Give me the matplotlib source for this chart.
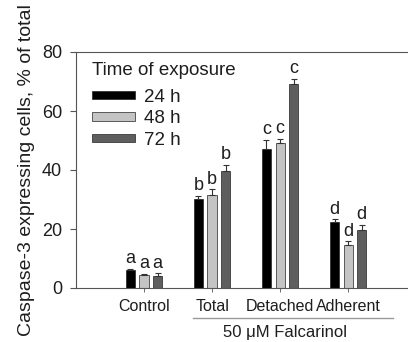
import matplotlib
matplotlib.use("Agg")
import matplotlib.pyplot as plt
import numpy as np

plt.rcParams["font.family"] = ["Liberation Sans", "DejaVu Sans"]

GROUPS = ["Control", "Total", "Detached", "Adherent"]
SERIES = ["24 h", "48 h", "72 h"]
VALUES = [
    [6.0, 30.3, 47.0, 22.5],
    [4.5, 31.5, 49.0, 14.5],
    [4.2, 39.8, 69.0, 19.8],
]
ERRORS = [
    [0.6, 1.0, 3.3, 0.8],
    [0.4, 2.0, 1.6, 1.3],
    [0.8, 2.0, 2.0, 1.6],
]
LETTERS = ["a", "b", "c", "d"]

COLORS = ["#000000", "#c4c4c4", "#5e5e5e"]
TEXT = "#1e1e1e"
AXIS = "#555555"

fig = plt.figure(figsize=(4.08, 3.42), dpi=100)
ax = fig.add_axes([76 / 408, 1 - 288 / 342, 1 - 76 / 408, (288 - 52) / 342])

x = np.arange(len(GROUPS))
width = 0.135
offsets = [-0.2, 0.0, 0.2]
for i, label in enumerate(SERIES):
    xs = x + offsets[i]
    ax.bar(xs, VALUES[i], width, color=COLORS[i], edgecolor="#222222",
           linewidth=0.5, label=label, zorder=2)
    ax.errorbar(xs, VALUES[i], yerr=[np.zeros(len(GROUPS)), ERRORS[i]],
                fmt="none", ecolor="#333333", elinewidth=0.8, capsize=2.5,
                capthick=0.8, zorder=3)
    for xi, v, e, letter in zip(xs, VALUES[i], ERRORS[i], LETTERS):
        ax.text(xi, v + e + 0.5, letter, ha="center", va="bottom",
                fontsize=13, color=TEXT)

ax.set_xlim(-1.0, 3.88)
ax.set_ylim(0, 80)
ax.set_yticks([0, 20, 40, 60, 80])
ax.set_xticks(x)
ax.set_xticklabels(GROUPS)
ax.tick_params(axis="both", colors=AXIS, labelcolor=TEXT)
ax.tick_params(axis="x", length=3, width=0.6, pad=5, labelsize=11.5)
ax.tick_params(axis="y", length=4, width=0.8, pad=6, labelsize=13)
ax.spines["right"].set_visible(False)
for s in ["left", "bottom", "top"]:
    ax.spines[s].set_color(AXIS)
    ax.spines[s].set_linewidth(0.8)

ax.set_ylabel("Caspase-3 expressing cells, % of total", fontsize=14,
              color=TEXT, labelpad=5)

leg = ax.legend(title="Time of exposure", loc="upper left", frameon=False,
                fontsize=13.5, title_fontsize=13.5, handlelength=2.3,
                handleheight=0.32, handletextpad=0.5, labelspacing=0.25,
                borderaxespad=0.0, borderpad=0.4,
                bbox_to_anchor=(0.025, 0.99))
leg._legend_box.align = "left"
leg._legend_box.sep = 7
for t in leg.get_texts():
    t.set_color(TEXT)
leg.get_title().set_color(TEXT)

# bracket for falcarinol groups
fig.add_artist(plt.Line2D([193 / 408, 393 / 408], [1 - 318 / 342, 1 - 318 / 342],
                          color="#999999", linewidth=1.0))
fig.text(285 / 408, 1 - 332 / 342, "50 \u03bcM Falcarinol", ha="center",
         va="center", fontsize=12, color=TEXT)

fig.savefig("out.png", dpi=100, facecolor="white")
